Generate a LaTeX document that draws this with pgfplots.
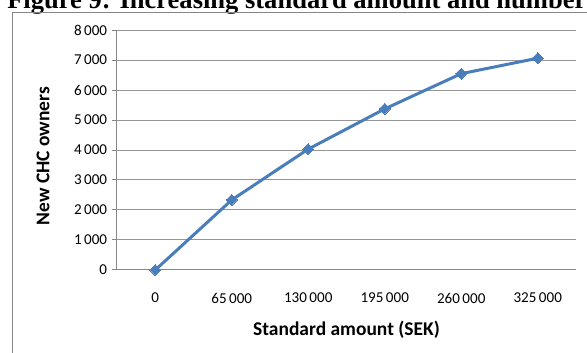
\documentclass[border=0pt]{standalone}
\usepackage{pgfplots}
\pgfplotsset{compat=1.18}
\usepackage{fontspec}
\setmainfont{Carlito}
\newfontfamily\titlefont{Liberation Serif}

\definecolor{lineblue}{RGB}{74,126,187}
\definecolor{axisgray}{RGB}{134,134,134}
\definecolor{gridgray}{RGB}{150,150,150}

% 1 unit of the page = 0.75pt
\begin{document}
\begin{tikzpicture}
\path[use as bounding box] (0pt,0pt) rectangle (440.25pt,264.75pt);
\begin{scope}
\clip (0pt,0pt) rectangle (440.25pt,264.75pt);
% caption line above the chart
\node[anchor=base west, inner sep=0pt, font=\titlefont\bfseries\fontsize{19.9}{23}\selectfont]
  at (5.25pt,258pt) {Figure 9: Increasing standard amount and number};
% chart area border
\draw[axisgray, line width=0.75pt] (9pt,-20pt) rectangle (460pt,255pt);
\end{scope}

\begin{axis}[
  at={(87.75pt,62.25pt)}, anchor=south west,
  scale only axis, width=344.25pt, height=180pt,
  xmin=-0.5, xmax=5.5, ymin=0, ymax=8000,
  xtick=data,
  xticklabels={0, 65\,000, 130\,000, 195\,000, 260\,000, 325\,000},
  ytick={0,1000,...,8000},
  /pgf/number format/assume math mode=true,
  /pgf/number format/1000 sep={\,},
  scaled y ticks=false,
  axis x line*=bottom, axis y line*=left,
  axis line style={axisgray, line width=0.75pt},
  x axis line style={-}, y axis line style={-},
  ymajorgrids, major grid style={gridgray, line width=0.75pt},
  tick align=outside,
  xtick style={draw=none},
  ytick style={axisgray, line width=0.75pt},
  major tick length=3.75pt,
  tick label style={font=\fontsize{11.3}{13}\selectfont},
  yticklabel style={inner sep=3.5pt},
  xticklabel style={yshift=-10pt},
  xlabel={Standard amount (SEK)},
  ylabel={New CHC owners},
  label style={font=\bfseries\fontsize{14.6}{17}\selectfont},
  xlabel style={at={(axis description cs:0.5,-0.25)}, anchor=center},
  ylabel style={at={(axis description cs:-0.161,0.475)}, anchor=center},
]
\addplot[color=lineblue, line width=2.25pt, mark=square*,
  mark size=2.9pt, mark options={rotate=45, fill=lineblue, line width=0pt}]
  coordinates {(0,0) (1,2335) (2,4030) (3,5370) (4,6545) (5,7060)};
\end{axis}
\end{tikzpicture}
\end{document}
